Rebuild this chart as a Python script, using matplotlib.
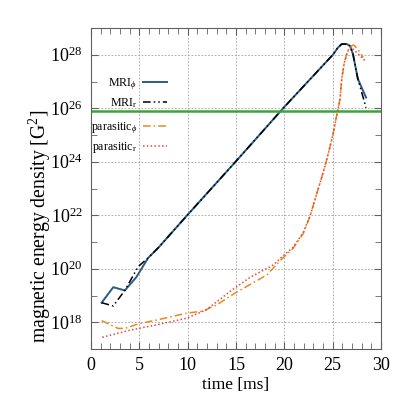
"""
Magnetic energy density growth: MRI vs parasitic modes
"""

import numpy as np
import matplotlib
matplotlib.use("Agg")
import matplotlib.pyplot as plt
from matplotlib.ticker import MultipleLocator, FixedLocator, LogFormatterMathtext, NullFormatter

plt.rcParams["font.family"] = "Liberation Serif"
plt.rcParams["mathtext.fontset"] = "custom"
plt.rcParams["mathtext.rm"] = "Liberation Serif"
plt.rcParams["mathtext.it"] = "Liberation Serif:italic"

# ── Data (time in ms, log10 of energy density in G^2) ─────────
t_mri_phi = [1.1, 2.3, 3.5, 4.7, 5.9, 7.0, 10.0, 15.0, 20.0, 25.07, 25.5, 25.93, 26.45,
             26.8, 27.1, 27.6, 28.45]
e_mri_phi = [18.73, 19.31, 19.19, 19.69, 20.40, 20.8, 22.02, 24.02, 26.05, 28.02, 28.25, 28.4, 28.4,
             28.33, 28.02, 27.1, 26.4]

t_mri_r = [1.1, 2.3, 3.5, 4.9, 5.9, 7.0, 10.0, 15.0, 20.0, 25.07, 25.5, 25.93, 26.45,
           26.8, 27.1, 27.6, 28.45]
e_mri_r = [18.73, 18.61, 19.19, 20.09, 20.40, 20.8, 22.02, 24.02, 26.05, 28.02, 28.25, 28.4, 28.4,
           28.33, 28.02, 27.1, 26.02]

t_par_phi = [1.1, 2.8, 3.5, 4.9, 7.0, 9.9, 11.6, 13.0, 14.9, 16.4, 18.2, 19.55, 20.9, 21.96,
             22.65, 23.17, 23.69, 24.2, 24.65, 25.07, 25.4, 25.76, 25.93, 26.2, 26.55, 26.9,
             27.2, 27.6, 28.17]
e_par_phi = [18.06, 17.77, 17.77, 17.94, 18.1, 18.34, 18.42, 18.65, 19.09, 19.4, 19.77, 20.3, 20.76, 21.32,
             21.96, 22.59, 23.21, 23.83, 24.46, 25.09, 25.71, 26.34, 27.08, 27.71, 28.15, 28.33,
             28.36, 28.2, 27.9]

t_par_r = [1.17, 4.0, 7.0, 9.9, 11.9, 14.6, 16.5, 18.9, 19.55, 20.9, 21.96, 22.65, 23.17, 23.69,
           24.2, 24.65, 25.07, 25.4, 25.76, 25.93, 26.2, 26.55, 26.9, 27.6, 28.35]
e_par_r = [17.44, 17.7, 17.92, 18.15, 18.46, 19.21, 19.69, 20.15, 20.38, 20.8, 21.36, 21.96, 22.59, 23.21,
           23.83, 24.46, 25.09, 25.71, 26.34, 27.08, 27.7, 28.12, 28.28, 28.05, 27.77]

threshold_log = 25.9

# ── Plot ─────────────────────────────────────────────────
fig = plt.figure(figsize=(4.07, 4.07), dpi=100)
ax = fig.add_axes([0.2236, 0.1425, 0.7126, 0.7887])

h1, = ax.plot(t_mri_phi, 10.0 ** np.array(e_mri_phi), color="#2b5b84", lw=1.4, label=r"MRI$_\phi$")
h2, = ax.plot(t_mri_r, 10.0 ** np.array(e_mri_r), color="black", lw=1.1,
              linestyle=(0, (5, 2, 1, 2, 1, 2)), label=r"MRI$_\mathrm{r}$")
h3, = ax.plot(t_par_phi, 10.0 ** np.array(e_par_phi), color="#e8891d", lw=1.1,
              linestyle=(0, (5, 2, 1, 2)), label=r"parasitic$_\phi$")
h4, = ax.plot(t_par_r, 10.0 ** np.array(e_par_r), color="#e8483c", lw=1.1,
              linestyle=(0, (1, 1.5)), label=r"parasitic$_\mathrm{r}$")
ax.axhline(10.0 ** threshold_log, color="#3aa53a", lw=1.8)

ax.set_yscale("log")
ax.set_xlim(0, 30)
ax.set_ylim(1e17, 1e29)

ax.xaxis.set_major_locator(MultipleLocator(5))
ax.xaxis.set_minor_locator(MultipleLocator(1))
ax.yaxis.set_major_locator(FixedLocator([10.0 ** k for k in range(18, 29, 2)]))
ax.yaxis.set_minor_locator(FixedLocator([10.0 ** k for k in range(17, 30, 2)]))
ax.yaxis.set_major_formatter(LogFormatterMathtext())
ax.yaxis.set_minor_formatter(NullFormatter())

ax.tick_params(which="both", direction="in", top=True, right=True, color="#606060",
               labelsize=13, pad=6)
ax.tick_params(which="major", length=5)
ax.tick_params(which="minor", length=4)
ax.grid(True, which="major", color="#a0a0a0", linestyle=(0, (2, 2)), lw=0.6)
for s in ax.spines.values():
    s.set_color("#606060")
    s.set_linewidth(0.8)

ax.set_xlabel("time [ms]", fontsize=12.5, labelpad=2)
ax.set_ylabel(r"magnetic energy density [G$^2$]", fontsize=14.2, labelpad=2)
ax.yaxis.set_label_coords(-0.13, 0.383)

leg_kw = dict(frameon=False, markerfirst=False, fontsize=8.6, handlelength=2.0,
              handletextpad=0.5, labelspacing=0.35, borderpad=0, borderaxespad=0, loc="upper right")
leg1 = ax.legend(handles=[h1, h2], bbox_to_anchor=(0.262, 0.85), **leg_kw)
ax.add_artist(leg1)
ax.legend(handles=[h3, h4], bbox_to_anchor=(0.262, 0.713), **leg_kw)

plt.savefig("out.png", dpi=100)
plt.close()
